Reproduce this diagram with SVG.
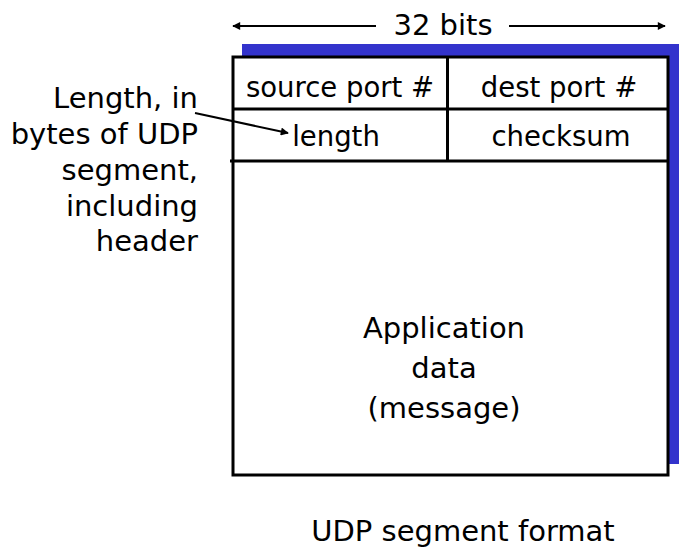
<svg xmlns="http://www.w3.org/2000/svg" width="679" height="558" viewBox="0 0 679 558">
<style>
text{font-family:"DejaVu Sans","Liberation Sans",sans-serif;fill:#000}
.c{text-anchor:middle}
.r{text-anchor:end}
.f{font-size:27.5px}
.g{font-size:29px}
.ln{stroke:#000;stroke-width:3;fill:none}
.box{stroke:#000;stroke-width:3;fill:#fff}
.ar{stroke:#000;stroke-width:2;fill:none}
</style>
<defs>
<marker id="ah" viewBox="0 0 10 10" refX="9" refY="5" markerWidth="10" markerHeight="8" markerUnits="userSpaceOnUse" orient="auto">
<path d="M0,0 L10,5 L0,10 z" fill="#000"/>
</marker>
</defs>
<rect x="242" y="44" width="437" height="420" fill="#3333cc"/>
<g id="segment">
<rect x="233" y="57" width="435" height="418" class="box"/>
</g>
<g id="header">
<line x1="233" y1="109" x2="668" y2="109" class="ln"/>
<line x1="230" y1="161" x2="667" y2="161" class="ln"/>
<line x1="447.5" y1="57" x2="447.5" y2="161" class="ln"/>
</g>
<g id="source-port"><text x="340" y="97" class="c f">source port #</text></g>
<g id="dest-port"><text x="559" y="97" class="c f">dest port #</text></g>
<g id="length"><text x="336" y="146" class="c f">length</text></g>
<g id="checksum"><text x="561" y="146" class="c f">checksum</text></g>
<g id="data">
<text x="444" y="338" class="c g">Application</text>
<text x="444" y="378" class="c g">data</text>
<text x="444" y="418" class="c g">(message)</text>
</g>
<g id="length-note">
<text x="198" y="108" class="r g">Length, in</text>
<text x="198" y="144" class="r g">bytes of UDP</text>
<text x="198" y="180" class="r g">segment,</text>
<text x="198" y="216" class="r g">including</text>
<text x="198" y="251" class="r g">header</text>
</g>
<g id="bits-label"><text x="443" y="35" class="c g">32 bits</text></g>
<g id="caption"><text x="463" y="541" class="c g">UDP segment format</text></g>
<g id="connectors">
<line x1="376" y1="26" x2="233" y2="26" class="ar" marker-end="url(#ah)"/>
<line x1="509" y1="26" x2="665" y2="26" class="ar" marker-end="url(#ah)"/>
<line x1="195" y1="113" x2="288" y2="133" class="ar" marker-end="url(#ah)"/>
</g>
</svg>
